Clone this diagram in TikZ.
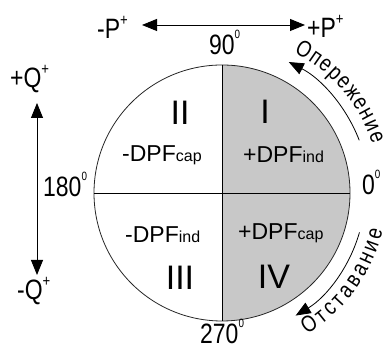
\documentclass[tikz,border=0pt]{standalone}
\usepackage{fontspec}
\setmainfont{Liberation Sans}
\newfontfamily\narrowfont[FakeStretch=0.82]{Liberation Sans}
\usetikzlibrary{arrows.meta,decorations.text}
\definecolor{quadgray}{RGB}{200,200,200}
\newcommand\supz{\raisebox{16pt}{\fontsize{12}{12}\selectfont 0}}
\newcommand\supp{\raisebox{13pt}{\fontsize{16}{16}\selectfont +}}
\newcommand\dsub[1]{{\fontsize{16}{16}\selectfont #1}}
\begin{document}
\begin{tikzpicture}[x=1pt,y=1pt,
  lab/.style={inner sep=0pt, anchor=base west, font=\narrowfont\fontsize{28}{28}\selectfont},
  roman/.style={inner sep=0pt, font=\fontsize{34}{34}\selectfont},
  dpf/.style={inner sep=0pt, anchor=base west, font=\fontsize{23}{23}\selectfont},
  tip/.style={-{Triangle[length=15pt,width=12pt]}, line width=0.8pt},
  dbl/.style={{Triangle[length=15pt,width=12pt]}-{Triangle[length=15pt,width=12pt]}, line width=0.9pt},
  arctext/.style={decorate, decoration={text along path, text align={fit to path},
     text={|\narrowfont\fontsize{23}{23}\selectfont|#1}}},
]
\useasboundingbox (0,0) rectangle (388,344);
\coordinate (C) at (222,151);
\fill[quadgray] (C) -- ++(0,128) arc[start angle=90,end angle=-90,radius=128pt] -- cycle;
\node[circle, draw=black!85, minimum size=256pt, inner sep=0pt, line width=0.8pt] (circ) at (C) {};
\draw[line width=0.9pt] (circ.north) -- (circ.south);
\draw[line width=0.9pt] (circ.west) -- (circ.east);

% axis arrows
\coordinate (pl) at (142,319);
\coordinate (pr) at (305,319);
\draw[dbl] (pl) -- (pr);
\coordinate (qt) at (37,241);
\coordinate (qb) at (37,69);
\draw[dbl] (qt) -- (qb);

% arc arrows
\coordinate (a1) at ([shift={(21:147pt)}]C);
\draw[tip] (a1) arc[start angle=21,end angle=63,radius=147pt];
\coordinate (a2) at ([shift={(-16:143pt)}]C);
\draw[tip] (a2) arc[start angle=-16,end angle=-59,radius=143pt];

% arc texts
\coordinate (t1) at ([shift={(63:158pt)}]C);
\path[arctext={Опережение}] (t1) arc[start angle=63,end angle=18,radius=158pt];
\coordinate (t2) at ([shift={(-59:165pt)}]C);
\path[arctext={Отставание}] (t2) arc[start angle=-59,end angle=-13,radius=165pt];

% axis labels
\node[lab] (mp) at (97,305) {-P\supp};
\node[lab] (pp) at (307,306) {+P\supp};
\node[lab] (n90) at (209,289) {90\supz};
\node[lab] (pq) at (10,256) {+Q\supp};
\node[lab] (mq) at (17,44) {-Q\supp};
\node[lab] (n180) at (43,147) {180\supz};
\node[lab] (n0) at (362,149) {0\supz};
\node[lab] (n270) at (200,0) {270\supz};

% quadrant labels
\node[roman] (q1) at (265,232) {I};
\node[roman] (q2) at (180,231.5) {II};
\node[roman] (q3) at (180,66.5) {III};
\node[roman] (q4) at (274,67) {IV};
\node[dpf] (d1) at (243,181) {+DPF\dsub{ind}};
\node[dpf] (d2) at (122,182) {-DPF\dsub{cap}};
\node[dpf] (d3) at (125,101) {-DPF\dsub{ind}};
\node[dpf] (d4) at (238,104) {+DPF\dsub{cap}};
\end{tikzpicture}
\end{document}
